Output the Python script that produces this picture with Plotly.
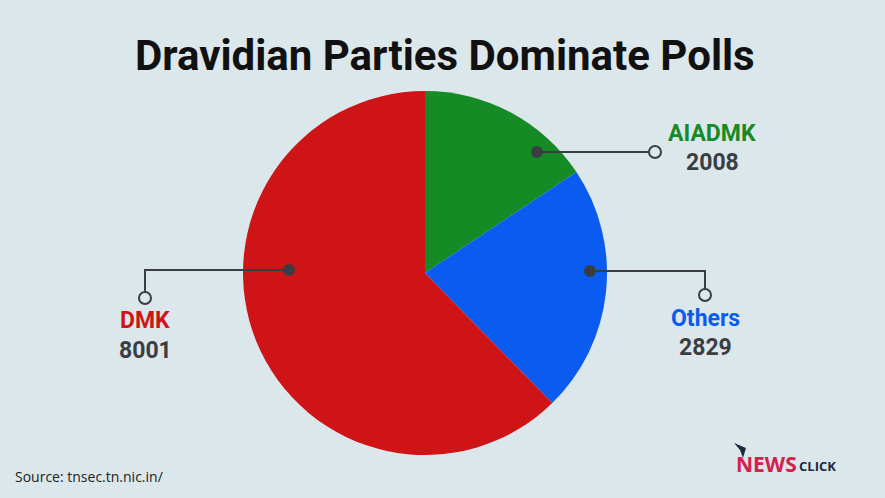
import plotly.graph_objects as go

# ---- data ----
parties = ["AIADMK", "Others", "DMK"]
seats = [2008, 2829, 8001]
colors = ["#168a25", "#0a5cf0", "#cf1417"]
title_text = "Dravidian Parties Dominate Polls"
source_text = "Source: tnsec.tn.nic.in/"

W, H = 885, 498
BG = "#dce7eb"
DARK = "#3a3d41"
COND = "Roboto, sans-serif"

def px(x, y):
    return x / W, 1 - y / H

cx, cy, R = 425, 273, 182

fig = go.Figure()
fig.add_trace(go.Pie(
    labels=parties, values=seats, sort=False, direction="clockwise", rotation=0,
    marker=dict(colors=colors, line=dict(width=0)),
    textinfo="none", hoverinfo="label+value", showlegend=False,
    domain=dict(x=[(cx - R) / W, (cx + R) / W], y=[1 - (cy + R) / H, 1 - (cy - R) / H]),
))

shapes = []
annotations = []

def line(pts):
    path = "M " + " L ".join(f"{x/W},{1-y/H}" for x, y in pts)
    shapes.append(dict(type="path", xref="paper", yref="paper", path=path,
                       line=dict(color=DARK, width=2)))

def circle(x, y, r, filled):
    x0, y0 = px(x - r, y + r)
    x1, y1 = px(x + r, y - r)
    shapes.append(dict(type="circle", xref="paper", yref="paper", x0=x0, y0=y0, x1=x1, y1=y1,
                       line=dict(color=DARK, width=2),
                       fillcolor=DARK if filled else BG))

def text(x, y, t, size, color, family=COND, xanchor="center"):
    ax, ay = px(x, y)
    annotations.append(dict(x=ax, y=ay, xref="paper", yref="paper", text=t,
                            xanchor=xanchor, yanchor="middle", showarrow=False,
                            font=dict(family=family, size=size, color=color)))

# leaders: dot inside slice -> open circle near label
leaders = {
    "AIADMK": dict(pts=[(537, 152), (655, 152)], lab=(712, 133), val=(712, 162)),
    "Others": dict(pts=[(590, 271), (705, 271), (705, 295)], lab=(705, 318), val=(705, 347)),
    "DMK": dict(pts=[(289, 270), (145, 270), (145, 298)], lab=(145, 320), val=(145, 350)),
}
for name, val, col in zip(parties, seats, colors):
    L = leaders[name]
    line(L["pts"])
    circle(*L["pts"][0], 5, True)
    circle(*L["pts"][-1], 6, False)
    text(*L["lab"], f"<b>{name}</b>", 23, col)
    text(*L["val"], f"<b>{val}</b>", 23, DARK)

# title
text(445, 56, f"<b>{title_text}</b>", 42, "#111111")
# source
text(13, 476, source_text, 14, "#222222", family="Open Sans, sans-serif", xanchor="left")
# logo
text(734, 464, "<b>NEWS</b>", 21, "#d3204c", family="Open Sans, sans-serif", xanchor="left")
text(797, 466, "<b>CLICK</b>", 13, "#1b2a3f", family="Open Sans, sans-serif", xanchor="left")
p = [(734, 443), (746, 448), (743, 458), (740, 450)]
shapes.append(dict(type="path", xref="paper", yref="paper",
                   path="M " + " L ".join(f"{a/W},{1-b/H}" for a, b in p) + " Z",
                   fillcolor="#1b2a3f", line=dict(width=0)))

fig.update_layout(width=W, height=H, paper_bgcolor=BG, plot_bgcolor=BG,
                  margin=dict(l=0, r=0, t=0, b=0), shapes=shapes, annotations=annotations)
fig.write_html("out.html", config={"displayModeBar": False},
               post_script="document.body.style.margin='0';")
